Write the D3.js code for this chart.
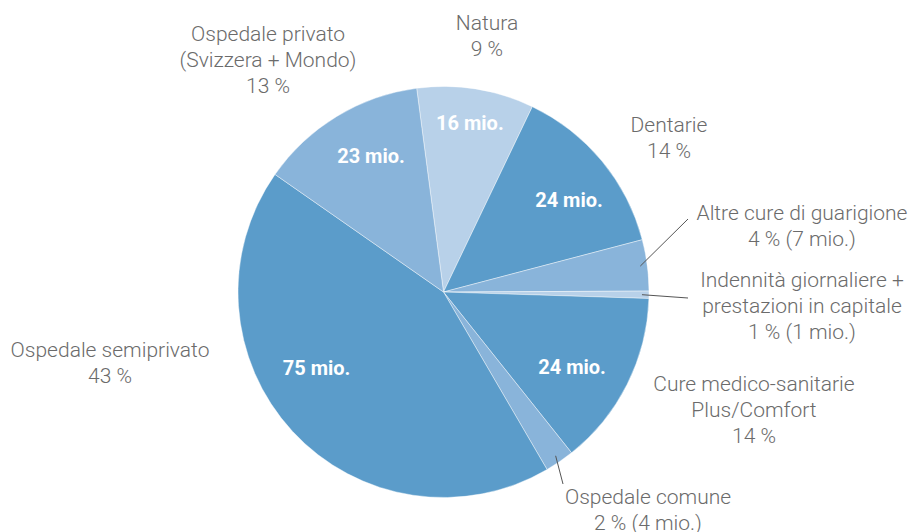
<!DOCTYPE html>
<html>
<head>
<meta charset="utf-8">
<script src="https://cdn.jsdelivr.net/npm/d3@7"></script>
<style>
  body { margin: 0; background: #fff; }
  svg text { font-family: Roboto, "Noto Sans", sans-serif; }
</style>
</head>
<body>
<div id="chart"></div>
<script>
// valeurs (mio.) dans l'ordre horaire depuis le haut
const categories = ["Natura", "Dentarie", "Altre cure di guarigione", "Indennità giornaliere + prestazioni in capitale",
  "Cure medico-sanitarie Plus/Comfort", "Ospedale comune", "Ospedale semiprivato", "Ospedale privato (Svizzera + Mondo)"]
const values = [16, 24, 7, 1, 24, 4, 75, 23]
const shades = ["light", "dark", "mid", "light", "dark", "mid", "dark", "mid"]
// texte des étiquettes extérieures (une ligne par élément)
const outerLabels = [
  ["Natura", "9 %"],
  ["Dentarie", "14 %"],
  ["Altre cure di guarigione", "4 % (7 mio.)"],
  ["Indennità giornaliere +", "prestazioni in capitale", "1 % (1 mio.)"],
  ["Cure medico-sanitarie", "Plus/Comfort", "14 %"],
  ["Ospedale comune", "2 % (4 mio.)"],
  ["Ospedale semiprivato", "43 %"],
  ["Ospedale privato", "(Svizzera + Mondo)", "13 %"]
]
const innerLabels = ["16 mio.", "24 mio.", "", "", "24 mio.", "", "75 mio.", "23 mio."]

const width = 912
const height = 532
const cx = 443.5
const cy = 292
const radius = 205.5

const colors = { dark: "#5b9cca", mid: "#89b4da", light: "#b8d1e9" }

const svg = d3.select("#chart")
  .append("svg")
  .attr("width", width)
  .attr("height", height)

const g = svg.append("g").attr("transform", "translate(" + cx + "," + cy + ")")

const startAngle = -7.5 * Math.PI / 180
const pie = d3.pie()
  .sort(null)
  .value(d => d)
  .startAngle(startAngle)
  .endAngle(startAngle + 2 * Math.PI)

const arcs = pie(values)
const arc = d3.arc().innerRadius(0).outerRadius(radius)

g.selectAll("path.slice")
  .data(arcs)
  .join("path")
  .attr("class", "slice")
  .attr("d", arc)
  .attr("fill", (d, i) => colors[shades[i]])
  .attr("stroke", "#ffffff")
  .attr("stroke-width", 0.6)
  .attr("stroke-opacity", 0.7)

// étiquettes blanches dans les parts
const labelArc = d3.arc().innerRadius(155).outerRadius(155)
const innerShift = { 0: [2, -16], 1: [6, 7], 4: [-10, 6], 6: [-13, -29], 7: [8, -4] }
g.selectAll("text.inner")
  .data(arcs.filter((d, i) => innerLabels[i] !== ""))
  .join("text")
  .attr("class", "inner")
  .attr("x", d => labelArc.centroid(d)[0] + (innerShift[d.index] || [0, 0])[0])
  .attr("y", d => labelArc.centroid(d)[1] + (innerShift[d.index] || [0, 0])[1])
  .attr("dy", "0.35em")
  .attr("text-anchor", "middle")
  .attr("fill", "#ffffff")
  .attr("font-weight", 700)
  .attr("font-size", 20)
  .text(d => innerLabels[d.index])

// position des blocs de texte extérieurs (centre x, ligne de base de la 1re ligne)
const outerPos = [
  [487, 30], [669, 132], [802, 220], [802, 287], [754, 391], [648, 504], [110, 357], [268, 41]
]
const lineH = 26

outerLabels.forEach((lines, i) => {
  const t = svg.append("text")
    .attr("text-anchor", "middle")
    .attr("fill", "#6b6b6b")
    .attr("font-weight", 300)
    .attr("font-size", 21)
  lines.forEach((l, k) => {
    t.append("tspan")
      .attr("x", outerPos[i][0])
      .attr("y", outerPos[i][1] + k * lineH)
      .text(l)
  })
})

// lignes de rappel pour les petites parts
const leaderArc = d3.arc().innerRadius(radius - 7).outerRadius(radius - 7)
const leaders = [
  { i: 2, to: [688, 219] },
  { i: 3, to: [688, 298] },
  { i: 5, to: [563, 484] }
]
leaders.forEach(l => {
  const p = leaderArc.centroid(arcs[l.i])
  svg.append("line")
    .attr("x1", cx + p[0])
    .attr("y1", cy + p[1])
    .attr("x2", l.to[0])
    .attr("y2", l.to[1])
    .attr("stroke", "#555")
    .attr("stroke-width", 1)
})
</script>
</body>
</html>
